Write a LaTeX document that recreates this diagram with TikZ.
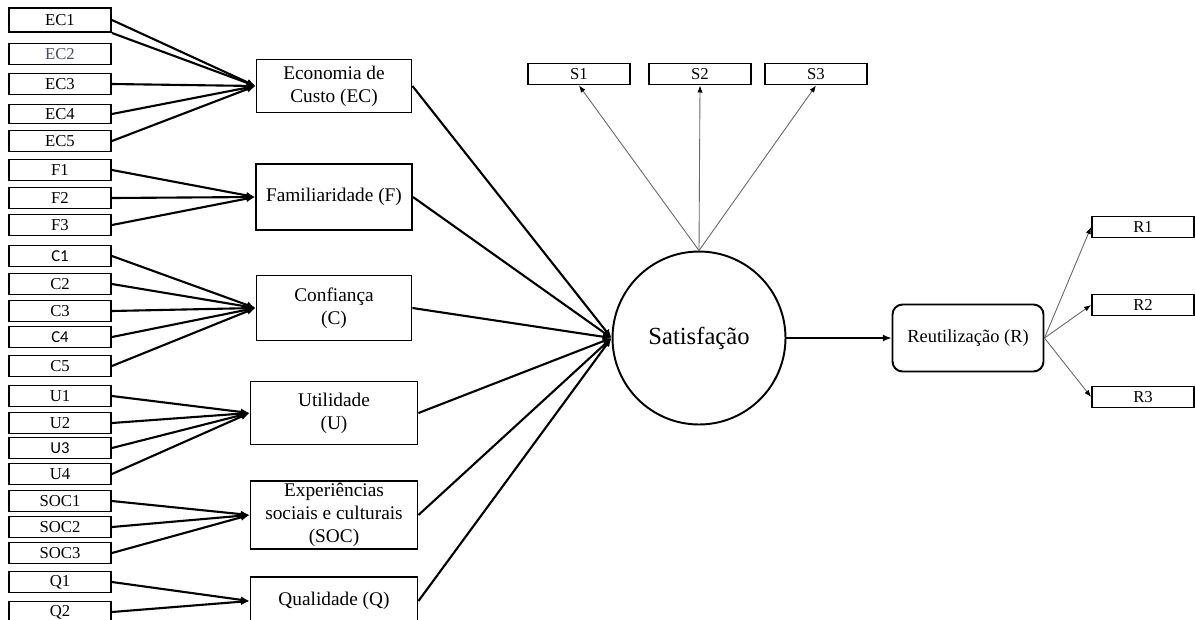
\documentclass[tikz,border=0pt]{standalone}
\usepackage{fontspec}
\setmainfont{Liberation Serif}
\newfontfamily\calfont{Carlito}
\usetikzlibrary{arrows.meta}

\begin{document}
\begin{tikzpicture}[
  x=0.02cm,y=-0.02cm,
  >={Latex[length=5pt,width=4pt]},
  ind/.style={draw,line width=1.1pt,minimum width=2.04cm,minimum height=0.42cm,
    inner sep=1pt,font=\fontsize{9.5}{11}\selectfont},
  cons/.style={draw,line width=1.1pt,align=center,inner sep=1pt,
    font=\fontsize{11}{13.2}\selectfont},
  path/.style={->,line width=1.2pt},
  load/.style={-{Latex[length=4pt,width=3pt,black]},line width=0.5pt,gray!80!black}]

  \definecolor{faded}{RGB}{70,78,95}

  \useasboundingbox (0,0) rectangle (1195,619);

  % ---- indicators ----
  \node[ind,minimum height=0.48cm] (ec1) at (60,20) {EC1};
  \node[ind,text=faded] (ec2) at (60,54) {EC2};
  \node[ind] (ec3) at (60,84) {EC3};
  \node[ind,minimum height=0.38cm] (ec4) at (60,114) {EC4};
  \node[ind] (ec5) at (60,141) {EC5};
  \node[ind] (f1) at (60,170) {F1};
  \node[ind] (f2) at (60,198) {F2};
  \node[ind] (f3) at (60,225) {F3};
  \node[ind,font=\calfont\fontsize{9.5}{11}\selectfont] (c1) at (60,256) {C1};
  \node[ind] (c2) at (60,284) {C2};
  \node[ind] (c3) at (60,311) {C3};
  \node[ind,font=\calfont\fontsize{9.5}{11}\selectfont] (c4) at (60,337) {C4};
  \node[ind] (c5) at (60,366) {C5};
  \node[ind] (u1) at (60,396) {U1};
  \node[ind] (u2) at (60,423) {U2};
  \node[ind,font=\calfont\fontsize{9.5}{11}\selectfont] (u3) at (60,448) {U3};
  \node[ind] (u4) at (60,474) {U4};
  \node[ind] (soc1) at (60,501) {SOC1};
  \node[ind] (soc2) at (60,527) {SOC2};
  \node[ind] (soc3) at (60,553) {SOC3};
  \node[ind] (q1) at (60,582) {Q1};
  \node[ind] (q2) at (60,612) {Q2};

  % ---- constructs ----
  \node[cons,minimum width=3.1cm,minimum height=1.06cm] (ec) at (334,86)
    {Economia de\\Custo (EC)};
  \node[cons,minimum width=3.12cm,minimum height=1.32cm] (fam) at (334,197)
    {Familiaridade (F)};
  \node[cons,minimum width=3.1cm,minimum height=1.3cm] (conf) at (334,308)
    {Confiança\\(C)};
  \node[cons,minimum width=3.34cm,minimum height=1.26cm] (util) at (334,413)
    {Utilidade\\(U)};
  \node[cons,minimum width=3.34cm,minimum height=1.36cm] (soc) at (334,515)
    {Experiências\\sociais e culturais\\(SOC)};
  \node[cons,minimum width=3.34cm,minimum height=0.96cm] (qual) at (334,601)
    {Qualidade (Q)};

  \node[draw,circle,line width=1.1pt,minimum size=3.46cm,inner sep=0pt,
    font=\fontsize{14}{16}\selectfont] (sat) at (699,338) {Satisfação};
  \node[draw,rounded corners=0.2cm,line width=1.1pt,minimum width=3.02cm,
    minimum height=1.34cm,font=\fontsize{10.5}{12.6}\selectfont] (reu) at (968,338)
    {Reutilização (R)};

  \node[ind] (s1) at (579,74) {S1};
  \node[ind] (s2) at (700,74) {S2};
  \node[ind] (s3) at (816,74) {S3};
  \node[ind] (r1) at (1143,227) {R1};
  \node[ind] (r2) at (1143,305) {R2};
  \node[ind] (r3) at (1143,397) {R3};

  % ---- indicator paths ----
  \draw[path] (ec1.east) -- (ec.west);
  \draw[path] (ec1.south east) -- (ec.west);
  \draw[path] (ec3.east) -- (ec.west);
  \draw[path] (ec4.east) -- (ec.west);
  \draw[path] (ec5.east) -- (ec.west);
  \draw[path] (f1.east) -- (fam.west);
  \draw[path] (f2.east) -- (fam.west);
  \draw[path] (f3.east) -- (fam.west);
  \draw[path] (c1.east) -- (conf.west);
  \draw[path] (c2.east) -- (conf.west);
  \draw[path] (c3.east) -- (conf.west);
  \draw[path] (c4.east) -- (conf.west);
  \draw[path] (c5.east) -- (conf.west);
  \draw[path] (u1.east) -- (util.west);
  \draw[path] (u2.east) -- (util.west);
  \draw[path] (u3.east) -- (util.west);
  \draw[path] (u4.east) -- (util.west);
  \draw[path] (soc1.east) -- (soc.west);
  \draw[path] (soc2.east) -- (soc.west);
  \draw[path] (soc3.east) -- (soc.west);
  \draw[path] (q1.east) -- (qual.west);
  \draw[path] (q2.east) -- (qual.west);

  % ---- structural paths ----
  \draw[path] (ec.east) -- (sat.west);
  \draw[path] (fam.east) -- (sat.west);
  \draw[path] (conf.east) -- (sat.west);
  \draw[path] (util.east) -- (sat.west);
  \draw[path] (soc.east) -- (sat.west);
  \draw[path] (qual.east) -- (sat.west);
  \draw[path,line width=0.8pt] (sat.east) -- (reu.west);

  % ---- loadings ----
  \draw[load] (sat.north) -- (s1.south);
  \draw[load] (sat.north) -- (s2.south);
  \draw[load] (sat.north) -- (s3.south);
  \draw[load] (reu.east) -- (r1.west);
  \draw[load] (reu.east) -- (r2.west);
  \draw[load] (reu.east) -- (r3.west);
\end{tikzpicture}
\end{document}
